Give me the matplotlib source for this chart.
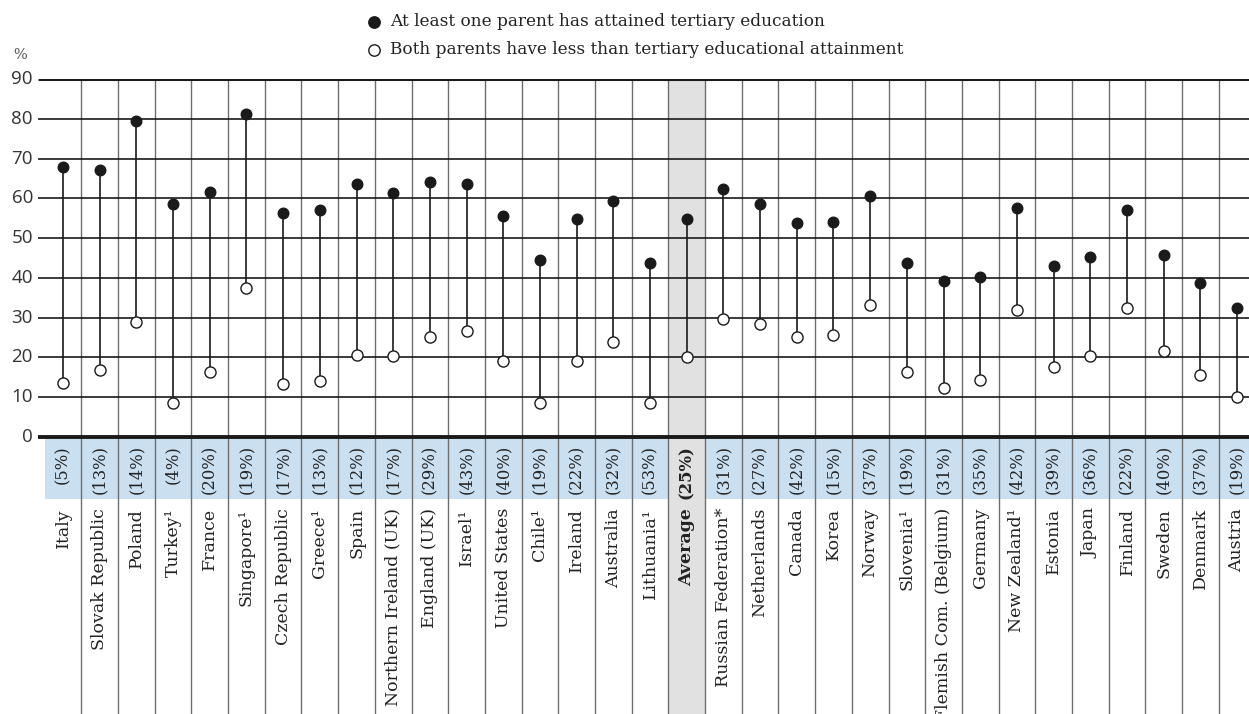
import matplotlib
matplotlib.use("Agg")
import matplotlib.pyplot as plt
from matplotlib.patches import Rectangle

countries = ["Italy", "Slovak Republic", "Poland", "Turkey¹", "France", "Singapore¹",
             "Czech Republic", "Greece¹", "Spain", "Northern Ireland (UK)", "England (UK)",
             "Israel¹", "United States", "Chile¹", "Ireland", "Australia", "Lithuania¹",
             "Average", "Russian Federation*", "Netherlands", "Canada", "Korea", "Norway",
             "Slovenia¹", "Flemish Com. (Belgium)", "Germany", "New Zealand¹", "Estonia",
             "Japan", "Finland", "Sweden", "Denmark", "Austria"]
shares = ["5%", "13%", "14%", "4%", "20%", "19%", "17%", "13%", "12%", "17%", "29%",
          "43%", "40%", "19%", "22%", "32%", "53%", "25%", "31%", "27%", "42%", "15%",
          "37%", "19%", "31%", "35%", "42%", "39%", "36%", "22%", "40%", "37%", "19%"]
tertiary = [67.8, 67.1, 79.4, 58.5, 61.7, 81.2, 56.4, 57.1, 63.5, 61.4, 64.0,
            63.7, 55.6, 44.5, 54.8, 59.3, 43.8, 54.7, 62.4, 58.5, 53.8, 54.0,
            60.7, 43.7, 39.2, 40.2, 57.6, 43.0, 45.3, 57.0, 45.8, 38.7, 32.4]
less_tertiary = [13.7, 16.8, 29.0, 8.5, 16.3, 37.5, 13.3, 14.1, 20.5, 20.3, 25.1,
                 26.7, 19.1, 8.6, 19.1, 24.0, 8.6, 20.0, 29.7, 28.5, 25.2, 25.6,
                 33.2, 16.3, 12.4, 14.3, 31.9, 17.5, 20.4, 32.4, 21.7, 15.5, 10.1]
legend_labels = ["At least one parent has attained tertiary education",
                 "Both parents have less than tertiary educational attainment"]
yticks = [0, 10, 20, 30, 40, 50, 60, 70, 80, 90]

W, H = 1249, 714
fig = plt.figure(figsize=(W / 100, H / 100), dpi=100)
SERIF = ["DejaVu Serif"]

# axes geometry in pixels
ax_left, ax_right = 38, 1249
y0_px, y90_px = 437, 79
ppu = (y0_px - y90_px) / 90.0
ymin = -(H - y0_px) / ppu
ax = fig.add_axes([ax_left / W, 0, (ax_right - ax_left) / W, (H - y90_px) / H])
col_w = 36.69
x0_center = 63
ax.set_xlim(-(x0_center - ax_left) / col_w, (ax_right - x0_center) / col_w)
ax.set_ylim(ymin, 90)
for s in ax.spines.values():
    s.set_visible(False)
ax.set_xticks([])
ax.set_yticks([])

n = len(countries)
avg_idx = countries.index("Average")
band_bottom = -(499 - y0_px) / ppu

# blue band
ax.add_patch(Rectangle((-0.5, band_bottom), n, -band_bottom, facecolor="#cadff0",
                       edgecolor="none", zorder=0))
# average column highlight
ax.add_patch(Rectangle((avg_idx - 0.5, ymin), 1, 90 - ymin, facecolor="#e1e1e1",
                       edgecolor="none", zorder=0.5))

# vertical dividers
for i in range(n - 1):
    ax.plot([i + 0.5, i + 0.5], [ymin, 90], color="#6e6e6e", lw=1.0, zorder=1)

# horizontal gridlines
xl = ax.get_xlim()
for t in yticks:
    lw = 1.2
    if t == 90:
        lw = 2.2
    if t == 0:
        lw = 2.8
    ax.plot(xl, [t, t], color="#1a1a1a", lw=lw, zorder=2, solid_capstyle="butt")
    fig.text(33 / W, 1 - (y0_px - t * ppu) / H, str(t), ha="right", va="center",
             fontsize=13.5, color="#333333", family=["Open Sans", "DejaVu Sans"])

fig.text(20 / W, 1 - 55 / H, "%", ha="center", va="center", fontsize=10.5,
         color="#555555", family=SERIF)

# dumbbells
for i in range(n):
    ax.plot([i, i], [less_tertiary[i], tertiary[i]], color="#1a1a1a", lw=1.2, zorder=3)
ax.plot(range(n), tertiary, "o", ms=7.6, mfc="#1a1a1a", mec="#1a1a1a", zorder=4,
        linestyle="none")
ax.plot(range(n), less_tertiary, "o", ms=8.0, mfc="white", mec="#1a1a1a", mew=1.0,
        zorder=4, linestyle="none")

# labels
pct_y = -(445 - y0_px) / ppu
lab_y = -(508 - y0_px) / ppu
for i in range(n):
    bold = (i == avg_idx)
    ax.text(i, pct_y, "(" + shares[i] + ")", rotation=90, ha="center", va="top",
            fontsize=11.8, color="#222222", family=SERIF,
            fontweight="bold" if bold else "normal", zorder=5)
    ax.text(i, lab_y, countries[i], rotation=90, ha="center", va="top",
            fontsize=12.5, color="#222222", family=SERIF,
            fontweight="bold" if bold else "normal", zorder=5)

# legend
leg_x, leg_tx = 374, 390
for k, (yy, lab) in enumerate(zip([22, 50], legend_labels)):
    fy = 1 - yy / H
    if k == 0:
        fig.lines.append(plt.Line2D([leg_x / W], [fy], marker="o", ms=8.2, mfc="#1a1a1a",
                                    mec="#1a1a1a", transform=fig.transFigure, figure=fig))
    else:
        fig.lines.append(plt.Line2D([leg_x / W], [fy], marker="o", ms=8.2, mfc="white",
                                    mec="#1a1a1a", mew=1.0, transform=fig.transFigure,
                                    figure=fig))
    fig.text(leg_tx / W, fy, lab, ha="left", va="center", fontsize=12.2,
             color="#222222", family=SERIF)

fig.savefig("out.png", dpi=100)
